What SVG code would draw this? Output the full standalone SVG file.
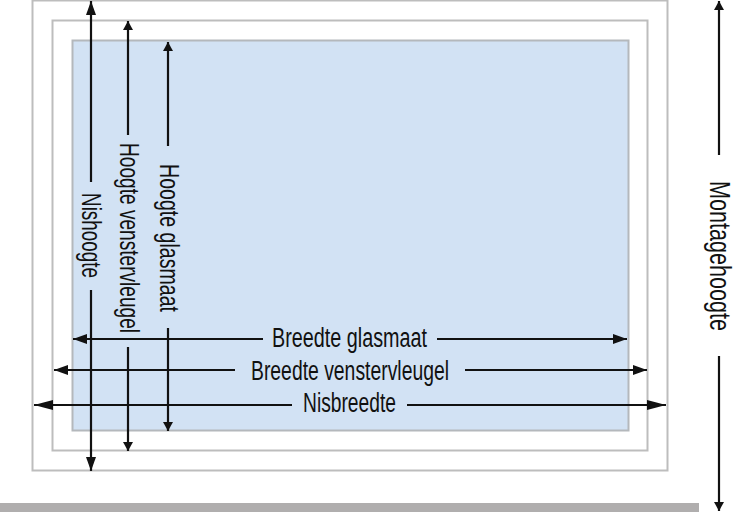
<svg xmlns="http://www.w3.org/2000/svg" width="748" height="512" viewBox="0 0 748 512">
<style>
.frame{fill:#fff;stroke:#bdbdbd;stroke-width:2}
.glass{fill:#d2e2f4;stroke:#b4b8bc;stroke-width:2}
.l{fill:none;stroke:#111;stroke-width:2.2}
.t{font-family:"Liberation Sans Narrow","Liberation Sans",Arial,sans-serif;font-size:27px;fill:#111}
.m{font-size:30px}
</style>
<defs>
<marker id="big" markerUnits="userSpaceOnUse" markerWidth="20" markerHeight="10" refX="19" refY="5" orient="auto-start-reverse"><path d="M0 0L19 5L0 10L0 0Z" fill="#111"/></marker>
<marker id="mid" markerUnits="userSpaceOnUse" markerWidth="15" markerHeight="10" refX="14" refY="5" orient="auto-start-reverse"><path d="M0 0L14 5L0 10L0 0Z" fill="#111"/></marker>
<marker id="small" markerUnits="userSpaceOnUse" markerWidth="10" markerHeight="10" refX="9" refY="5" orient="auto-start-reverse"><path d="M0 0L9 5L0 10L0 0Z" fill="#111"/></marker>
</defs>
<rect x="0" y="503" width="699" height="9" fill="#b0aeae"/>
<g id="nis"><rect class="frame" x="32.5" y="0.5" width="635" height="470"/></g>
<g id="vleugel"><rect class="frame" x="52.5" y="20.5" width="595" height="430"/></g>
<g id="glas"><rect class="glass" x="72.5" y="40.5" width="556" height="390"/></g>
<g id="connectors">
<path class="l" d="M91 182V1" marker-end="url(#mid)"/>
<path class="l" d="M91 290V471" marker-end="url(#mid)"/>
<path class="l" d="M128 135V21" marker-end="url(#small)"/>
<path class="l" d="M128 347V451" marker-end="url(#small)"/>
<path class="l" d="M168 146V42" marker-end="url(#small)"/>
<path class="l" d="M168 328V431" marker-end="url(#small)"/>
<path class="l" d="M263 339H73" marker-end="url(#mid)"/>
<path class="l" d="M437 339H627" marker-end="url(#mid)"/>
<path class="l" d="M235 370H54" marker-end="url(#mid)"/>
<path class="l" d="M465 370H647" marker-end="url(#mid)"/>
<path class="l" d="M292 405H34" marker-end="url(#big)"/>
<path class="l" d="M407 405H666" marker-end="url(#big)"/>
<path class="l" d="M719 155V1" marker-end="url(#small)"/>
<path class="l" d="M719 356V511" marker-end="url(#small)"/>
</g>
<g id="labels">
<text class="t" x="272" y="347" textLength="155" lengthAdjust="spacingAndGlyphs">Breedte glasmaat</text>
<text class="t" x="251" y="380" textLength="198" lengthAdjust="spacingAndGlyphs">Breedte venstervleugel</text>
<text class="t" x="303" y="412" textLength="93" lengthAdjust="spacingAndGlyphs">Nisbreedte</text>
<text class="t" transform="translate(82 193) rotate(90)" textLength="85" lengthAdjust="spacingAndGlyphs">Nishoogte</text>
<text class="t" transform="translate(120 143) rotate(90)" textLength="190" lengthAdjust="spacingAndGlyphs">Hoogte venstervleugel</text>
<text class="t" transform="translate(160 164) rotate(90)" textLength="148" lengthAdjust="spacingAndGlyphs">Hoogte glasmaat</text>
<text class="t m" transform="translate(710 181) rotate(90)" textLength="150" lengthAdjust="spacingAndGlyphs">Montagehoogte</text>
</g>
</svg>
